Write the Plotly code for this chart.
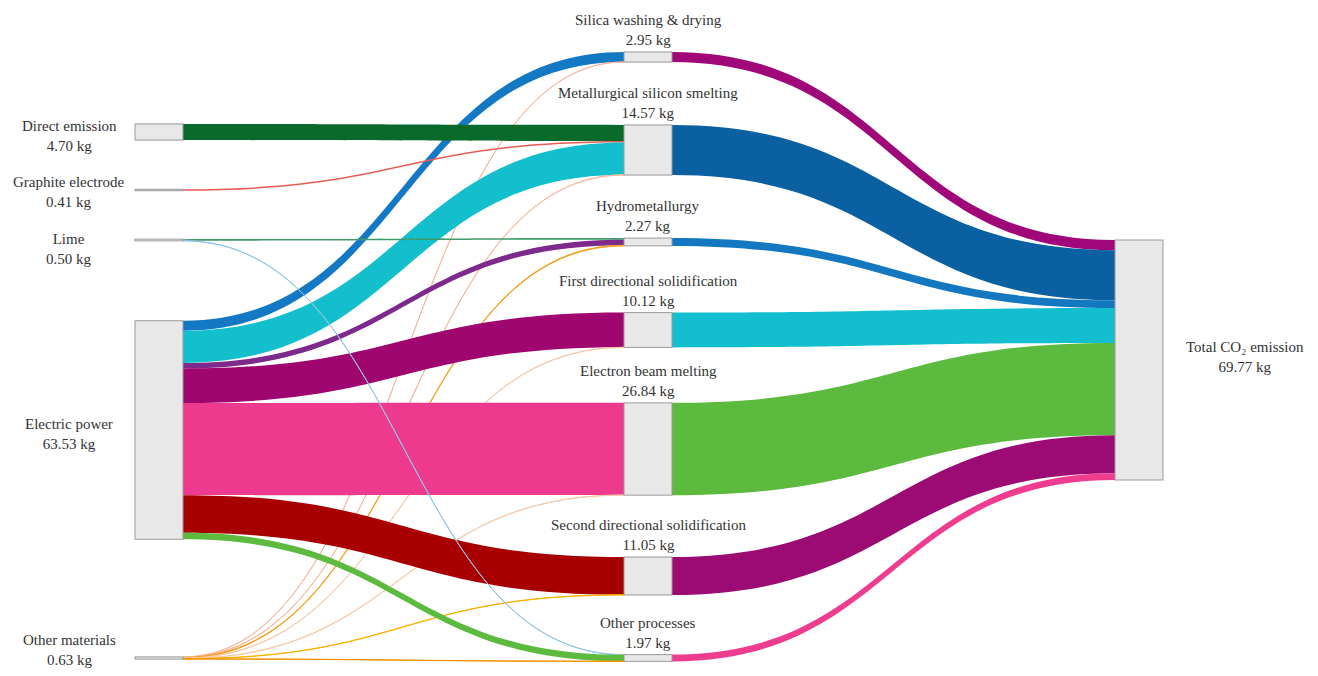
import plotly.graph_objects as go

# nodes
node_names = ["Direct emission", "Graphite electrode", "Lime", "Electric power", "Other materials",
              "Silica washing & drying", "Metallurgical silicon smelting", "Hydrometallurgy",
              "First directional solidification", "Electron beam melting",
              "Second directional solidification", "Other processes",
              "Total CO\u2082 emission"]
node_values = [4.70, 0.41, 0.50, 63.53, 0.63,
               2.95, 14.57, 2.27, 10.12, 26.84, 11.05, 1.97,
               69.77]

# links (source index, target index, value, colour)
link_source = [3, 4,
               0, 1, 3, 4,
               2, 3, 4,
               3, 4,
               3, 4,
               3, 4,
               2, 3, 4,
               5, 6, 7, 8, 9, 10, 11]
link_target = [5, 5,
               6, 6, 6, 6,
               7, 7, 7,
               8, 8,
               9, 9,
               10, 10,
               11, 11, 11,
               12, 12, 12, 12, 12, 12, 12]
link_values = [2.90, 0.05,
               4.70, 0.41, 9.36, 0.10,
               0.45, 1.62, 0.20,
               10.05, 0.07,
               26.77, 0.07,
               10.97, 0.08,
               0.05, 1.86, 0.06,
               2.95, 14.57, 2.27, 10.12, 26.84, 11.05, 1.97]
link_colors = ["#1479c4", "#f6b99c",
               "#0a6a2c", "#e85a52", "#14bfcd", "#f6b99c",
               "#3f9a6c", "#7d2a8c", "#f5a01e",
               "#a0066f", "#f6c9a8",
               "#ee3a8e", "#f6c9a8",
               "#a80000", "#f8b400",
               "#8fc6e6", "#5cbb3f", "#f39200",
               "#a0087a", "#0b60a2", "#1478c0", "#13bfcf", "#5cbb3f", "#9c0a74", "#ee3d8f"]

# page is offset by the body margin
OFF = 8
W, H = 1302, 660
PAD = 70
FONT = "Liberation Serif, Times New Roman, DejaVu Serif, serif"

# node centre positions, in page pixels
col_x = [159, 159, 159, 159, 159,
         648, 648, 648, 648, 648, 648, 648,
         1139]
row_y = [132, 190, 240, 430, 658,
         57, 150, 242, 330, 449, 576, 658,
         360]
label_y = [136, 192, 249, 434, 650]

ky = (H - 6 * PAD) / sum(node_values[5:12])


def px(v):
    return (v - OFF) / W


def py(v):
    return (v - OFF) / H


fig = go.Figure(go.Sankey(
    arrangement="fixed",
    node=dict(
        label=[""] * len(node_names),
        customdata=node_names,
        hovertemplate="%{customdata}: %{value:.2f} kg<extra></extra>",
        x=[px(v) for v in col_x],
        y=[py(v) for v in row_y],
        pad=PAD,
        thickness=48,
        color="#e8e8e8",
        line=dict(color="#9a9a9a", width=1),
    ),
    link=dict(
        source=link_source,
        target=link_target,
        value=link_values,
        color=link_colors,
        hovertemplate="%{source.customdata} \u2192 %{target.customdata}: %{value:.2f} kg<extra></extra>",
    ),
))

annotations = []
for i, name in enumerate(node_names):
    txt = f"{name}<br>{node_values[i]:.2f} kg"
    if col_x[i] < 400:
        annotations.append(dict(x=px(69), y=1 - py(label_y[i]), text=txt,
                                xanchor="center", yanchor="middle"))
    elif col_x[i] < 1000:
        top = row_y[i] - node_values[i] * ky / 2
        annotations.append(dict(x=px(648), y=1 - py(top - 2), text=txt,
                                xanchor="center", yanchor="bottom"))
    else:
        annotations.append(dict(x=px(1245), y=1 - py(357), text=txt,
                                xanchor="center", yanchor="middle"))
for a in annotations:
    a.update(xref="paper", yref="paper", showarrow=False, align="center",
             font=dict(family=FONT, size=15, color="#333333"))

fig.update_layout(
    width=W,
    height=H,
    margin=dict(l=0, r=0, t=0, b=0),
    paper_bgcolor="white",
    plot_bgcolor="white",
    annotations=annotations,
    font=dict(family=FONT, size=15, color="#333333"),
)

fig.write_html("out.html")
